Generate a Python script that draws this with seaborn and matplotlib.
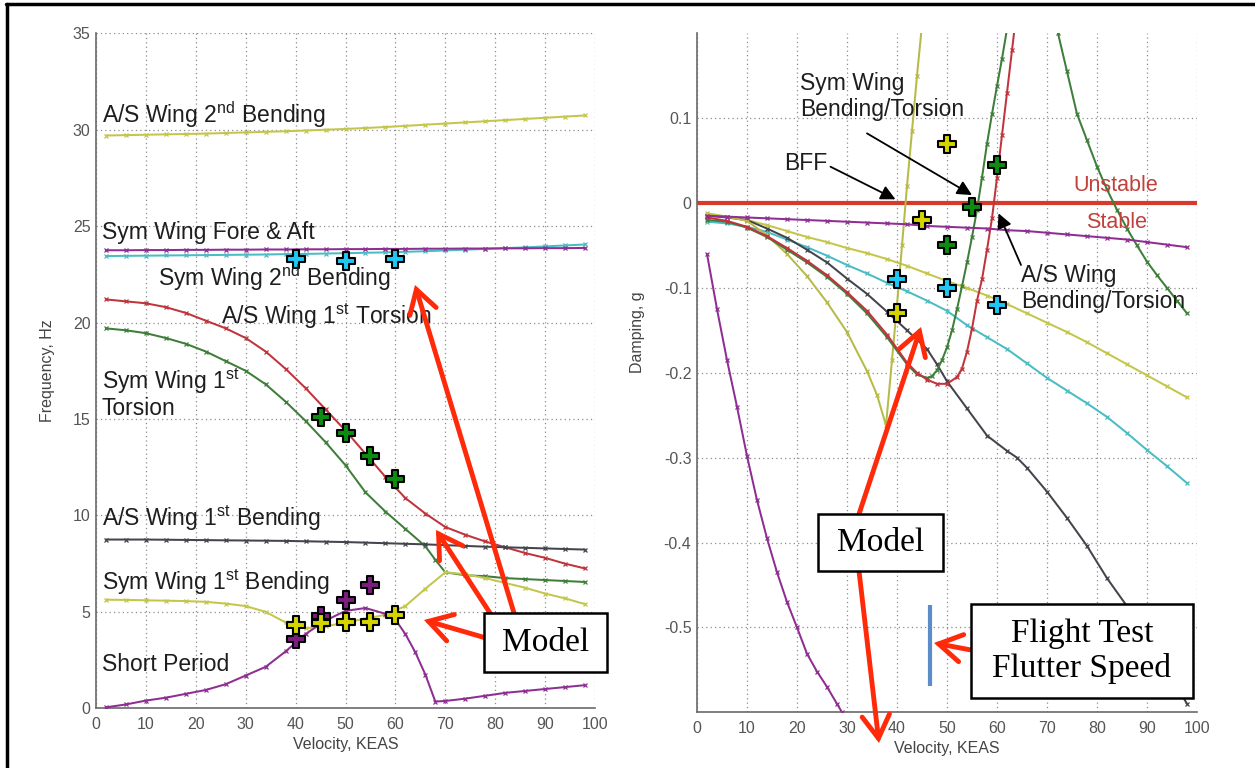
import matplotlib
matplotlib.use("Agg")
import matplotlib.pyplot as plt
import seaborn as sns
from matplotlib.patches import FancyArrowPatch, Rectangle
from matplotlib.lines import Line2D

# ---------------- frequency vs velocity ----------------
VEL = [2, 6, 10, 14, 18, 22, 26, 30, 34, 38, 42, 46, 50, 54, 58, 62, 66, 70, 74, 78, 82, 86, 90, 94, 98]

FREQ_AS_2ND_BEND = [29.70, 29.72, 29.74, 29.76, 29.78, 29.80, 29.83, 29.86, 29.89, 29.92, 29.96, 30.00, 30.04,
                    30.09, 30.14, 30.20, 30.26, 30.32, 30.38, 30.44, 30.50, 30.56, 30.62, 30.68, 30.74]
FREQ_SYM_FORE_AFT = [23.75, 23.75, 23.76, 23.76, 23.77, 23.77, 23.78, 23.78, 23.79, 23.79, 23.80, 23.80, 23.81,
                     23.81, 23.82, 23.82, 23.83, 23.83, 23.84, 23.84, 23.85, 23.85, 23.86, 23.86, 23.87]
FREQ_SYM_2ND_BEND = [23.45, 23.46, 23.47, 23.48, 23.49, 23.50, 23.51, 23.52, 23.53, 23.55, 23.56, 23.58, 23.60,
                     23.62, 23.64, 23.67, 23.70, 23.74, 23.78, 23.82, 23.86, 23.90, 23.95, 24.00, 24.05]
FREQ_AS_1ST_TORS = [21.2, 21.1, 21.0, 20.8, 20.5, 20.1, 19.7, 19.2, 18.5, 17.6, 16.6, 15.5, 14.4,
                    13.2, 12.0, 10.9, 10.1, 9.4, 9.0, 8.65, 8.35, 8.05, 7.8, 7.5, 7.25]
FREQ_AS_1ST_BEND = [8.75, 8.75, 8.75, 8.74, 8.73, 8.72, 8.71, 8.70, 8.69, 8.68, 8.66, 8.64, 8.62,
                    8.59, 8.56, 8.53, 8.50, 8.46, 8.42, 8.38, 8.35, 8.32, 8.29, 8.26, 8.23]
FREQ_SYM_1ST_BEND = [5.63, 5.62, 5.60, 5.58, 5.56, 5.52, 5.43, 5.30, 5.00, 4.45, 4.15, 4.25, 4.45,
                     4.65, 4.85, 5.30, 6.20, 7.05, 6.95, 6.75, 6.50, 6.25, 5.95, 5.70, 5.40]

VEL_SYM_1ST_TORS = [2, 6, 10, 14, 18, 22, 26, 30, 34, 38, 42, 46, 50, 54, 58, 62, 66, 68, 70, 74, 78, 82, 86, 90, 94, 98]
FREQ_SYM_1ST_TORS = [19.7, 19.6, 19.45, 19.2, 18.9, 18.5, 18.0, 17.5, 16.8, 15.9, 14.9, 13.8, 12.6,
                     11.2, 10.2, 9.3, 8.4, 7.7, 7.05, 6.9, 6.85, 6.75, 6.7, 6.65, 6.6, 6.55]

VEL_SHORT_PERIOD = [2, 6, 10, 14, 18, 22, 26, 30, 34, 38, 42, 46, 50, 54, 58, 60, 62, 64, 66, 68, 70,
                    74, 78, 82, 86, 90, 94, 98]
FREQ_SHORT_PERIOD = [0.05, 0.2, 0.4, 0.55, 0.75, 0.95, 1.25, 1.7, 2.15, 2.95, 3.85, 4.55, 5.05, 5.2, 4.9,
                     4.6, 3.85, 2.9, 1.75, 0.35, 0.38, 0.5, 0.65, 0.8, 0.9, 1.0, 1.1, 1.2]

# model test points (frequency)
FT_CYAN_V, FT_CYAN_F = [40, 50, 60], [23.3, 23.2, 23.3]
FT_GREEN_V, FT_GREEN_F = [45, 50, 55, 60], [15.1, 14.3, 13.1, 11.9]
FT_PURPLE_V, FT_PURPLE_F = [40, 45, 50, 55], [3.6, 4.8, 5.6, 6.4]
FT_YELLOW_V, FT_YELLOW_F = [40, 45, 50, 55, 60], [4.3, 4.4, 4.5, 4.5, 4.85]

# ---------------- damping vs velocity ----------------
DAMP_FORE_AFT = [-0.015, -0.016, -0.017, -0.018, -0.019, -0.020, -0.021, -0.022, -0.023, -0.024, -0.025,
                 -0.027, -0.028, -0.029, -0.030, -0.032, -0.033, -0.035, -0.037, -0.039, -0.041, -0.043,
                 -0.046, -0.049, -0.052]
DAMP_AS_2ND_BEND = [-0.012, -0.016, -0.020, -0.026, -0.033, -0.040, -0.046, -0.053, -0.059, -0.066, -0.074,
                    -0.083, -0.092, -0.100, -0.109, -0.119, -0.130, -0.141, -0.152, -0.164, -0.177, -0.190,
                    -0.203, -0.216, -0.229]
DAMP_SYM_2ND_BEND = [-0.022, -0.024, -0.028, -0.034, -0.043, -0.052, -0.062, -0.073, -0.083, -0.094, -0.104,
                     -0.115, -0.127, -0.144, -0.158, -0.172, -0.189, -0.206, -0.221, -0.236, -0.252, -0.271,
                     -0.291, -0.310, -0.330]

VEL_D_AS_1ST_BEND = [2, 6, 10, 14, 18, 22, 26, 30, 34, 38, 42, 46, 48, 50, 54, 58, 62, 64, 66, 70, 74, 78,
                     82, 86, 90, 94, 98]
DAMP_AS_1ST_BEND = [-0.015, -0.017, -0.020, -0.030, -0.041, -0.055, -0.070, -0.089, -0.107, -0.128, -0.150,
                    -0.172, -0.190, -0.210, -0.242, -0.274, -0.292, -0.300, -0.312, -0.340, -0.371, -0.404,
                    -0.442, -0.475, -0.510, -0.550, -0.590]

VEL_D_AS_TORS = [2, 6, 10, 14, 18, 22, 26, 30, 34, 38, 42, 44, 46, 48, 50, 52, 53, 54, 55, 56, 57, 58, 59,
                 60, 61, 62, 63, 64]
DAMP_AS_TORS = [-0.017, -0.021, -0.028, -0.039, -0.053, -0.068, -0.085, -0.105, -0.127, -0.155, -0.188,
                -0.200, -0.208, -0.213, -0.213, -0.205, -0.195, -0.175, -0.148, -0.115, -0.090, -0.055,
                -0.018, 0.030, 0.080, 0.130, 0.180, 0.230]

VEL_D_SYM_TORS = [2, 6, 10, 14, 18, 22, 26, 30, 34, 38, 42, 44, 46, 47, 48, 49, 50, 51, 52, 53, 54, 55, 56,
                  57, 58, 59, 60, 61, 62]
DAMP_SYM_TORS = [-0.020, -0.022, -0.029, -0.040, -0.055, -0.070, -0.087, -0.107, -0.130, -0.158, -0.190,
                 -0.202, -0.206, -0.204, -0.197, -0.185, -0.170, -0.150, -0.125, -0.098, -0.070, -0.040,
                 -0.008, 0.030, 0.070, 0.105, 0.138, 0.170, 0.205]

VEL_D_SYM_1ST_BEND = [2, 6, 10, 14, 18, 22, 26, 30, 34, 36, 37.8, 39, 40, 41, 42, 43, 44, 45]
DAMP_SYM_1ST_BEND = [-0.014, -0.016, -0.021, -0.038, -0.060, -0.086, -0.117, -0.152, -0.198, -0.226, -0.262,
                     -0.185, -0.120, -0.050, 0.020, 0.085, 0.150, 0.210]

VEL_D_TORS_HI = [72.2, 74, 76, 78, 80, 82, 84, 86, 88, 90, 92, 94, 96, 98]
DAMP_TORS_HI = [0.200, 0.155, 0.105, 0.074, 0.043, 0.016, -0.008, -0.030, -0.050, -0.069, -0.085, -0.100,
                -0.115, -0.130]

VEL_D_SHORT_PERIOD = [2, 4, 6, 8, 10, 12, 14, 16, 18, 20, 22, 24, 26, 28, 29]
DAMP_SHORT_PERIOD = [-0.060, -0.125, -0.185, -0.240, -0.298, -0.350, -0.395, -0.435, -0.470, -0.500, -0.531,
                     -0.552, -0.570, -0.590, -0.600]

# model test points (damping)
DT_YELLOW_V, DT_YELLOW_G = [40, 45, 50], [-0.13, -0.02, 0.07]
DT_GREEN_V, DT_GREEN_G = [50, 55, 60], [-0.05, -0.005, 0.045]
DT_CYAN_V, DT_CYAN_G = [40, 50, 60], [-0.09, -0.10, -0.12]

FLUTTER_SPEED = 46.6
FREQ_TICKS = [0, 5, 10, 15, 20, 25, 30, 35]
VEL_TICKS = [0, 10, 20, 30, 40, 50, 60, 70, 80, 90, 100]
DAMP_TICKS = [-0.5, -0.4, -0.3, -0.2, -0.1, 0.0, 0.1]
DAMP_TICK_LABELS = ["-0.5", "-0.4", "-0.3", "-0.2", "-0.1", "0", "0.1"]

# ---------------- styling ----------------
sns.set_theme(style="white")
plt.rcParams["font.family"] = ["Liberation Sans", "DejaVu Sans"]
plt.rcParams["mathtext.fontset"] = "custom"
plt.rcParams["mathtext.rm"] = "Liberation Sans"
plt.rcParams["mathtext.it"] = "Liberation Sans:italic"
plt.rcParams["axes.unicode_minus"] = False

C_OLIVE = "#c4c64c"
C_PURPLE = "#8e2e92"
C_CYAN = "#4cbcc4"
C_RED = "#c0343c"
C_GREEN = "#3e7e3a"
C_GRAY = "#44444c"
M_CYAN, M_GREEN, M_PURPLE, M_YELLOW = "#1ec8f5", "#0c8c10", "#7b1f7f", "#d4d400"
ARROW_RED = "#ff2a0a"
TXT = "#1e1e1e"
AX_GRAY = "#6a6a6a"

W, H = 1255, 768
fig = plt.figure(figsize=(W / 100, H / 100), dpi=100)
fig.patch.set_facecolor("white")

ax1 = fig.add_axes([96 / W, 1 - 708.3 / H, 499 / W, 675 / H])
ax2 = fig.add_axes([697 / W, 1 - 712.3 / H, 500 / W, 679 / H])


def curve(ax, x, y, color):
    sns.lineplot(x=x, y=y, ax=ax, color=color, lw=1.45, marker="x", markersize=3.5,
                 markeredgewidth=0.9, markeredgecolor=color, estimator=None, sort=False, zorder=3)


def points(ax, x, y, color):
    sns.scatterplot(x=x, y=y, ax=ax, marker="P", s=175, color=color, edgecolor="black",
                    linewidth=1.5, zorder=6)


def style_axes(ax):
    for side in ("top", "right"):
        ax.spines[side].set_visible(False)
    for side in ("left", "bottom"):
        ax.spines[side].set_color(AX_GRAY)
        ax.spines[side].set_linewidth(1.2)
    ax.set_axisbelow(True)
    ax.grid(True, which="major", color="#8c8c8c", linestyle=(0, (1, 2.5)), linewidth=0.9)
    ax.tick_params(direction="in", length=4, color=AX_GRAY, labelcolor="#555555", labelsize=11.5)
    ax.tick_params(axis="x", pad=6)
    ax.tick_params(axis="y", pad=4)
    ax.set_xticks(VEL_TICKS)
    ax.set_xticks(list(range(5, 100, 10)), minor=True)
    ax.tick_params(which="minor", direction="in", length=2.5, color=AX_GRAY)
    ax.set_xlim(0, 100)
    ax.set_xlabel("Velocity, KEAS", fontsize=11.5, color="#444444", labelpad=4)


# ---------- left: frequency ----------
curve(ax1, VEL, FREQ_AS_2ND_BEND, C_OLIVE)
curve(ax1, VEL, FREQ_SYM_2ND_BEND, C_CYAN)
curve(ax1, VEL, FREQ_SYM_FORE_AFT, C_PURPLE)
curve(ax1, VEL, FREQ_AS_1ST_TORS, C_RED)
curve(ax1, VEL_SYM_1ST_TORS, FREQ_SYM_1ST_TORS, C_GREEN)
curve(ax1, VEL, FREQ_AS_1ST_BEND, C_GRAY)
curve(ax1, VEL, FREQ_SYM_1ST_BEND, C_OLIVE)
curve(ax1, VEL_SHORT_PERIOD, FREQ_SHORT_PERIOD, C_PURPLE)

points(ax1, FT_CYAN_V, FT_CYAN_F, M_CYAN)
points(ax1, FT_GREEN_V, FT_GREEN_F, M_GREEN)
points(ax1, FT_PURPLE_V, FT_PURPLE_F, M_PURPLE)
points(ax1, FT_YELLOW_V, FT_YELLOW_F, M_YELLOW)

style_axes(ax1)
ax1.set_ylim(0, 35)
ax1.set_yticks(FREQ_TICKS)
ax1.set_ylabel("Frequency, Hz", fontsize=11.5, color="#444444")
ax1.yaxis.set_label_coords(-0.082, 0.5)

LBL = dict(fontsize=16.5, color=TXT, ha="left", va="center", zorder=7)
ax1.text(1.2, 30.76, r"A/S Wing 2$^{\mathrm{nd}}$ Bending", **LBL)
ax1.text(1.2, 24.69, "Sym Wing Fore & Aft", **LBL)
ax1.text(12.4, 22.31, r"Sym Wing 2$^{\mathrm{nd}}$ Bending", **LBL)
ax1.text(25.0, 20.34, r"A/S Wing 1$^{\mathrm{st}}$ Torsion", **LBL)
ax1.text(1.2, 16.97, r"Sym Wing 1$^{\mathrm{st}}$", **LBL)
ax1.text(1.2, 15.57, "Torsion", **LBL)
ax1.text(1.2, 9.87, r"A/S Wing 1$^{\mathrm{st}}$ Bending", **LBL)
ax1.text(1.2, 6.55, r"Sym Wing 1$^{\mathrm{st}}$ Bending", **LBL)
ax1.text(1.2, 2.25, "Short Period", **LBL)

# ---------- right: damping ----------
ax2.axhline(0, color="#d63a2a", lw=3.0, zorder=2)
curve(ax2, VEL_D_SHORT_PERIOD, DAMP_SHORT_PERIOD, C_PURPLE)
curve(ax2, VEL, DAMP_AS_2ND_BEND, C_OLIVE)
curve(ax2, VEL, DAMP_SYM_2ND_BEND, C_CYAN)
curve(ax2, VEL_D_AS_1ST_BEND, DAMP_AS_1ST_BEND, C_GRAY)
curve(ax2, VEL_D_SYM_1ST_BEND, DAMP_SYM_1ST_BEND, "#b8ba48")
curve(ax2, VEL_D_SYM_TORS, DAMP_SYM_TORS, C_GREEN)
curve(ax2, VEL_D_AS_TORS, DAMP_AS_TORS, C_RED)
curve(ax2, VEL_D_TORS_HI, DAMP_TORS_HI, C_GREEN)
curve(ax2, VEL, DAMP_FORE_AFT, C_PURPLE)

points(ax2, DT_YELLOW_V, DT_YELLOW_G, M_YELLOW)
points(ax2, DT_GREEN_V, DT_GREEN_G, M_GREEN)
points(ax2, DT_CYAN_V, DT_CYAN_G, M_CYAN)

# measured flutter onset
ax2.plot([FLUTTER_SPEED, FLUTTER_SPEED], [-0.474, -0.569], color="#5b8ec9", lw=3, solid_capstyle="butt",
         zorder=4)

style_axes(ax2)
ax2.set_ylim(-0.6, 0.2)
ax2.set_yticks(DAMP_TICKS)
ax2.set_yticklabels(DAMP_TICK_LABELS)
ax2.set_ylabel("Damping, g", fontsize=11.5, color="#444444")
ax2.yaxis.set_label_coords(-0.104, 0.56)

ax2.text(20.6, 0.1255, "Sym Wing\nBending/Torsion", linespacing=1.2, **LBL)
ax2.text(17.4, 0.047, "BFF", **LBL)
ax2.text(64.8, -0.1007, "A/S Wing\nBending/Torsion", linespacing=1.2, **LBL)
ax2.text(75.2, 0.0212, "Unstable", fontsize=15.5, color="#c2403c", ha="left", va="center", zorder=7)
ax2.text(77.8, -0.0224, "Stable", fontsize=15.5, color="#c2403c", ha="left", va="center", zorder=7)

BLACK_ARROW = dict(arrowstyle="-|>", color="black", lw=1.3, mutation_scale=22, shrinkA=0, shrinkB=0)
ax2.annotate("", xy=(39.7, 0.0044), xytext=(26.7, 0.0428), arrowprops=BLACK_ARROW, zorder=7)
ax2.annotate("", xy=(55.0, 0.0094), xytext=(34.0, 0.0821), arrowprops=BLACK_ARROW, zorder=7)
ax2.annotate("", xy=(60.3, -0.0121), xytext=(64.8, -0.073), arrowprops=BLACK_ARROW, zorder=7)


# ---------- callout boxes and red arrows (figure pixels, top-left origin) ----------
def fp(x, y):
    return (x / W, 1 - y / H)


def callout(x0, y0, x1, y1, text, size=24):
    fig.add_artist(Rectangle(fp(x0, y1), (x1 - x0) / W, (y1 - y0) / H, transform=fig.transFigure,
                             facecolor="white", edgecolor="black", lw=1.8, zorder=10))
    cx, cy = fp((x0 + x1) / 2, (y0 + y1) / 2)
    fig.text(cx, cy, text, ha="center", va="center", fontsize=size, family=["Liberation Serif", "DejaVu Serif"],
             color="black", linespacing=1.15, zorder=11)


def red_arrow(tail, head):
    fig.add_artist(FancyArrowPatch(fp(*tail), fp(*head), transform=fig.transFigure,
                                   arrowstyle="->,head_length=0.75,head_width=0.45", mutation_scale=22,
                                   color=ARROW_RED, lw=3.5, shrinkA=0, shrinkB=0, zorder=9,
                                   capstyle="round", joinstyle="miter"))


red_arrow((486, 638), (424, 620))
red_arrow((490, 613), (436, 530))
red_arrow((514, 613), (415, 285))
callout(484, 613, 607, 672, "Model")

red_arrow((859, 514), (921, 327))
red_arrow((859, 571), (879, 743))
callout(818, 514, 943, 571, "Model")

red_arrow((971, 650), (934, 643))
callout(971, 604, 1193, 698, "Flight Test\nFlutter Speed")

# slide frame
fig.add_artist(Line2D([6 / W, 1], [1 - 4 / H, 1 - 4 / H], transform=fig.transFigure, color="black", lw=2.5))
fig.add_artist(Line2D([7 / W, 7 / W], [0, 1 - 4 / H], transform=fig.transFigure, color="black", lw=2.5))

fig.savefig("out.png", dpi=100)
